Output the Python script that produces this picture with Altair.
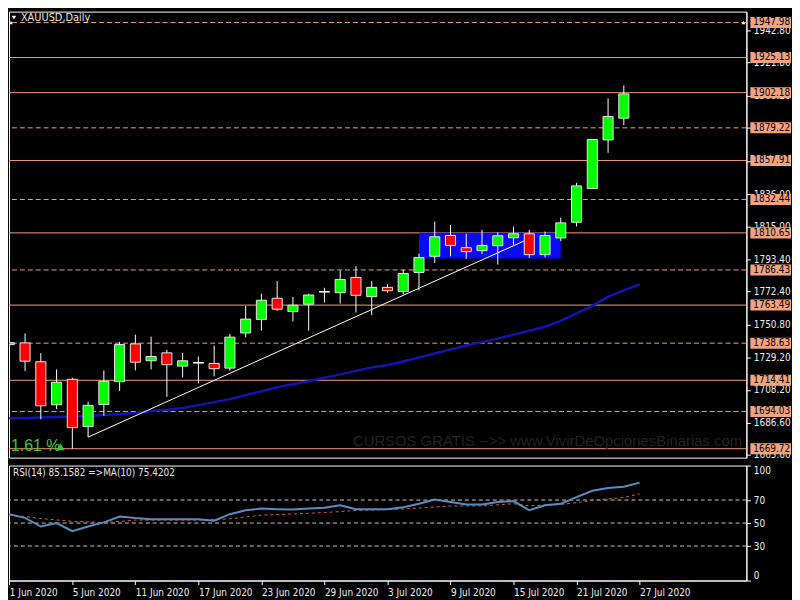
import altair as alt
import pandas as pd

# ---------------- data ----------------
dates = ["1 Jun", "2 Jun", "3 Jun", "4 Jun", "5 Jun", "8 Jun", "9 Jun", "10 Jun", "11 Jun", "12 Jun",
         "15 Jun", "16 Jun", "17 Jun", "18 Jun", "19 Jun", "22 Jun", "23 Jun", "24 Jun", "25 Jun", "26 Jun",
         "29 Jun", "30 Jun", "1 Jul", "2 Jul", "3 Jul", "6 Jul", "7 Jul", "8 Jul", "9 Jul", "10 Jul",
         "13 Jul", "14 Jul", "15 Jul", "16 Jul", "17 Jul", "20 Jul", "21 Jul", "22 Jul", "23 Jul", "24 Jul"]
open_ = [1737.71, 1738.81, 1726.50, 1698.40, 1715.04, 1684.15, 1698.66, 1713.55, 1738.16, 1727.15,
         1732.33, 1723.65, 1725.86, 1725.40, 1722.36, 1745.28, 1754.09, 1767.94, 1759.27, 1764.06,
         1772.22, 1771.57, 1781.55, 1768.98, 1775.07, 1772.35, 1784.79, 1795.34, 1808.94, 1800.97,
         1799.03, 1802.27, 1807.45, 1810.04, 1796.44, 1807.32, 1817.56, 1839.57, 1871.31, 1885.55]
high = [1744.83, 1745.02, 1732.08, 1721.52, 1716.14, 1700.35, 1720.86, 1739.46, 1744.18, 1742.89,
        1734.28, 1732.33, 1729.93, 1737.06, 1744.63, 1762.96, 1770.93, 1779.15, 1768.79, 1770.93,
        1774.81, 1786.08, 1788.87, 1779.15, 1777.21, 1786.73, 1797.09, 1818.01, 1815.87, 1810.04,
        1812.63, 1810.89, 1814.77, 1812.63, 1811.53, 1820.60, 1843.26, 1871.95, 1898.46, 1906.92]
low = [1726.05, 1720.41, 1688.93, 1695.60, 1669.72, 1677.29, 1691.28, 1707.46, 1720.86, 1721.52,
       1703.57, 1716.14, 1712.26, 1716.98, 1720.66, 1742.43, 1746.77, 1759.72, 1752.79, 1746.77,
       1765.10, 1764.45, 1758.62, 1756.94, 1771.57, 1770.53, 1773.13, 1791.00, 1795.34, 1793.59,
       1796.83, 1789.96, 1802.92, 1794.24, 1794.69, 1805.25, 1814.77, 1839.19, 1862.89, 1880.94]
close = [1738.98, 1726.89, 1697.75, 1713.10, 1683.50, 1698.01, 1713.74, 1737.71, 1726.24, 1729.93,
         1724.56, 1727.15, 1725.86, 1721.97, 1742.56, 1754.34, 1766.65, 1760.82, 1763.41, 1770.08,
         1772.22, 1780.25, 1769.89, 1775.07, 1772.87, 1784.14, 1794.50, 1808.10, 1802.46, 1798.39,
         1802.46, 1808.75, 1810.04, 1796.44, 1808.94, 1817.17, 1841.32, 1871.57, 1886.65, 1901.35]

# moving average on price (index 0..40)
ma_price = [1689.59, 1689.78, 1690.11, 1690.43, 1690.76, 1691.08, 1691.73, 1692.38, 1693.02, 1694.32,
            1694.96, 1696.26, 1698.20, 1700.15, 1702.09, 1704.68, 1707.27, 1709.86, 1711.80, 1713.75,
            1716.01, 1718.28, 1720.55, 1722.81, 1724.43, 1726.70, 1729.29, 1731.88, 1734.47, 1737.06,
            1739.33, 1741.60, 1744.19, 1746.77, 1749.36, 1753.24, 1758.10, 1762.96, 1768.79, 1773.32,
            1777.01]

# RSI(14) and its MA(10) (index 0..40)
rsi = [57.7, 54.5, 47.0, 50.0, 43.0, 47.0, 50.6, 55.7, 54.3, 53.4, 53.4, 53.4, 53.4, 52.1, 57.7,
       61.1, 62.6, 62.1, 61.7, 62.6, 63.4, 65.4, 62.0, 62.0, 62.0, 63.8, 66.8, 70.5, 68.3, 66.2,
       66.2, 68.3, 69.1, 61.1, 65.4, 66.8, 72.5, 78.1, 80.4, 81.5, 85.16]
rsi_ma = [57.2, 55.6, 54.0, 52.7, 51.5, 51.0, 50.4, 51.4, 52.6, 52.6, 52.6, 52.6, 52.6, 53.0, 53.6,
          55.3, 56.9, 57.4, 57.9, 58.5, 59.1, 60.0, 60.9, 61.3, 61.7, 62.3, 63.0, 64.0, 64.9, 64.9,
          64.9, 65.9, 66.8, 65.1, 65.5, 66.2, 67.7, 69.6, 71.1, 72.3, 75.42]
rsi_levels = [30, 50, 70]
rsi_ticks = [0, 30, 50, 70, 100]

levels_solid = [1925.13, 1902.18, 1857.91, 1810.65, 1763.49, 1714.41, 1669.72]
levels_dashed = [1947.98, 1879.22, 1832.44, 1786.43, 1738.63, 1694.03]
price_ticks = [1665.60, 1686.60, 1708.20, 1729.20, 1750.80, 1772.40, 1793.40, 1815.00,
               1836.00, 1857.60, 1879.20, 1900.20, 1921.80, 1942.80]
current_price = [1947.98]

date_tick_idx = [0, 4, 8, 12, 16, 20, 24, 28, 32, 36, 40]
date_tick_labels = ["1 Jun 2020", "5 Jun 2020", "11 Jun 2020", "17 Jun 2020", "23 Jun 2020",
                    "29 Jun 2020", "3 Jul 2020", "9 Jul 2020", "15 Jul 2020", "21 Jul 2020",
                    "27 Jul 2020"]

trend_idx = [5, 32.7]
trend_price = [1677.3, 1805.5]
box_idx = [26, 35]
box_price = [1793.9, 1810.7]

title_text = ["XAUUSD,Daily"]
pct_text = ["1.61 %"]
watermark = ["CURSOS GRATIS -->> www.VivirDeOpcionesBinarias.com"]
rsi_label = ["RSI(14) 85.1582  =>MA(10) 75.4202"]

# ---------------- layout ----------------
W = 744
H1 = 450
H2 = 116
FONT = "Liberation Sans Narrow, DejaVu Sans Condensed, Liberation Sans, Arial, sans-serif"
LINE_COL = "#F0A080"
BOX_COL = "#F5A27F"

xs = alt.Scale(domain=[-0.02, 46.78], nice=False, zero=False)
ps = alt.Scale(domain=[1663.9, 1955.1], nice=False, zero=False)
rs = alt.Scale(domain=[0, 100], nice=False, zero=False)

AXP = alt.Axis(orient="right", values=price_ticks, format=".2f", tickSize=4, labelPadding=3,
               title=None, grid=False, labelOverlap=False, labelFlush=False)
AXR = alt.Axis(orient="right", values=rsi_ticks, format="d", tickSize=4, labelPadding=3,
               title=None, grid=False, labelOverlap=False, labelFlush=True)
label_expr = "[" + ",".join("'" + s + "'" for s in date_tick_labels) + "][round(datum.value/4)]"
AXD = alt.Axis(values=date_tick_idx, labelExpr=label_expr, labelAlign="left", labelFlush=False,
               tickSize=4, labelPadding=3, title=None, grid=False, labelOverlap=False)

def PY(field):
    return alt.Y(field, type="quantitative", scale=ps, axis=AXP, title=None)

def PX(field):
    return alt.X(field, type="quantitative", scale=xs, axis=None, title=None)

cdf = pd.DataFrame({"i": list(range(len(dates))), "d": dates, "o": open_, "h": high,
                    "l": low, "c": close})
cbase = alt.Chart(cdf).transform_calculate(
    lo="min(datum.o, datum.c)", hi="max(datum.o, datum.c)",
    x1="datum.i - 0.32", x2="datum.i + 0.32",
    dir="datum.c > datum.o ? 'up' : (datum.c < datum.o ? 'down' : 'flat')")

solid = alt.Chart(pd.DataFrame({"p": levels_solid})).mark_rule(
    color=LINE_COL, strokeWidth=1).encode(y=PY("p"))
dashed = alt.Chart(pd.DataFrame({"p": levels_dashed})).mark_rule(
    color=LINE_COL, strokeWidth=1, strokeDash=[5, 3]).encode(y=PY("p"))

rect_df = pd.DataFrame({"a": [box_idx[0]], "b": [box_idx[1]], "p1": [box_price[0]], "p2": [box_price[1]]})
blue_rect = alt.Chart(rect_df).mark_rect(color="#0A0AF5", clip=True).encode(
    x=PX("a"), x2="b", y=PY("p1"), y2="p2")

ma_df = pd.DataFrame({"i": list(range(len(ma_price))), "v": ma_price})
ma_line = alt.Chart(ma_df).mark_line(color="#1414B4", strokeWidth=2.5, clip=True).encode(
    x=PX("i"), y=PY("v"))

tr_df = pd.DataFrame({"i": trend_idx, "v": trend_price})
trend = alt.Chart(tr_df).mark_line(color="#FFFFFF", strokeWidth=1, clip=True).encode(
    x=PX("i"), y=PY("v"))

wicks = cbase.mark_rule(color="#FFFFFF", strokeWidth=1, clip=True).encode(
    x=PX("i"), y=PY("l"), y2="h")
bodies = cbase.mark_rect(stroke="#E8E8E8", strokeWidth=1, clip=True).encode(
    x=PX("x1"), x2="x2", y=PY("lo"), y2="hi",
    color=alt.Color("dir:N", scale=alt.Scale(domain=["up", "down", "flat"],
                                              range=["#00FF00", "#FF0000", "#FFFFFF"]), legend=None))
doji = cbase.transform_filter("datum.o == datum.c").mark_tick(
    orient="horizontal", color="#FFFFFF", size=11, thickness=1.5, clip=True).encode(
    x=PX("i"), y=PY("o"))

cp_df = pd.DataFrame({"p": current_price})
arrow_l = alt.Chart(cp_df).mark_point(shape="triangle-up", filled=True, color="#FFFFFF",
                                      size=14, opacity=1).encode(x=alt.value(2), y=PY("p"))
arrow_r = alt.Chart(cp_df).mark_point(shape="triangle-up", filled=True, color="#FFFFFF",
                                      size=14, opacity=1).encode(x=alt.value(W - 3), y=PY("p"))

wm = alt.Chart(pd.DataFrame({"t": watermark})).mark_text(
    align="left", baseline="middle", font="Liberation Sans, Arial, sans-serif", fontSize=15,
    color="#232323").encode(x=alt.value(347), y=alt.value(433), text="t:N")
pct = alt.Chart(pd.DataFrame({"t": pct_text})).mark_text(
    align="left", baseline="middle", font="Liberation Sans, Arial, sans-serif", fontSize=16,
    color="#35C835").encode(x=alt.value(2), y=alt.value(438), text="t:N")
tri = alt.Chart(pd.DataFrame({"t": pct_text})).mark_point(
    shape="triangle-up", filled=True, color="#35C835", size=70, opacity=1).encode(
    x=alt.value(52), y=alt.value(439))
ttl = alt.Chart(pd.DataFrame({"t": title_text})).mark_text(
    align="left", baseline="middle", font=FONT, fontSize=11, color="#E6E6E6").encode(
    x=alt.value(12), y=alt.value(6), text="t:N")
ttl_tri = alt.Chart(pd.DataFrame({"t": title_text})).mark_point(
    shape="triangle-down", filled=True, color="#FFFFFF", size=20, opacity=1).encode(
    x=alt.value(5), y=alt.value(6))

lv_df = pd.DataFrame({"p": levels_solid + levels_dashed})
boxes = alt.Chart(lv_df).transform_calculate(
    b1="datum.p - 3.6", b2="datum.p + 3.6").mark_rect(color=BOX_COL).encode(
    x=alt.value(W + 4), x2=alt.value(W + 45), y=PY("b1"), y2="b2")
box_txt = alt.Chart(lv_df).mark_text(
    align="left", baseline="middle", font=FONT, fontSize=10, color="#000000").encode(
    x=alt.value(W + 7), y=PY("p"), text=alt.Text("p:Q", format=".2f"))

main = alt.layer(solid, dashed, blue_rect, ma_line, trend, wicks, bodies, doji,
                 arrow_l, arrow_r, wm, pct, tri, ttl, ttl_tri, boxes, box_txt
                 ).properties(width=W, height=H1)

# ---------------- RSI panel ----------------
def RY(field):
    return alt.Y(field, type="quantitative", scale=rs, axis=AXR, title=None)

def RX(field):
    return alt.X(field, type="quantitative", scale=xs, axis=AXD, title=None)

rl = alt.Chart(pd.DataFrame({"r": rsi_levels})).mark_rule(
    color="#C8C8C8", strokeWidth=1, strokeDash=[4, 3]).encode(y=RY("r"))
rsi_df = pd.DataFrame({"i": list(range(len(rsi))), "r": rsi, "m": rsi_ma})
rsi_ma_line = alt.Chart(rsi_df).mark_line(color="#D8603C", strokeWidth=1, strokeDash=[3, 3],
                                          clip=True).encode(x=RX("i"), y=RY("m"))
rsi_line = alt.Chart(rsi_df).mark_line(color="#5B8CC0", strokeWidth=2, clip=True).encode(
    x=RX("i"), y=RY("r"))
rsi_txt = alt.Chart(pd.DataFrame({"t": rsi_label})).mark_text(
    align="left", baseline="middle", font=FONT, fontSize=10, color="#E6E6E6").encode(
    x=alt.value(4), y=alt.value(8), text="t:N")

rsi_panel = alt.layer(rl, rsi_ma_line, rsi_line, rsi_txt).properties(width=W, height=H2)

chart = alt.vconcat(main, rsi_panel, spacing=4).properties(
    background="#000000", padding=0
).configure(
    padding=0
).configure_view(
    stroke="#FFFFFF", strokeWidth=1
).configure_axis(
    labelFont=FONT, labelFontSize=10, labelColor="#F0F0F0",
    tickColor="#FFFFFF", domainColor="#FFFFFF", domainWidth=1, tickWidth=1
)

chart.save("out.html", embed_options={"renderer": "svg", "actions": False})
